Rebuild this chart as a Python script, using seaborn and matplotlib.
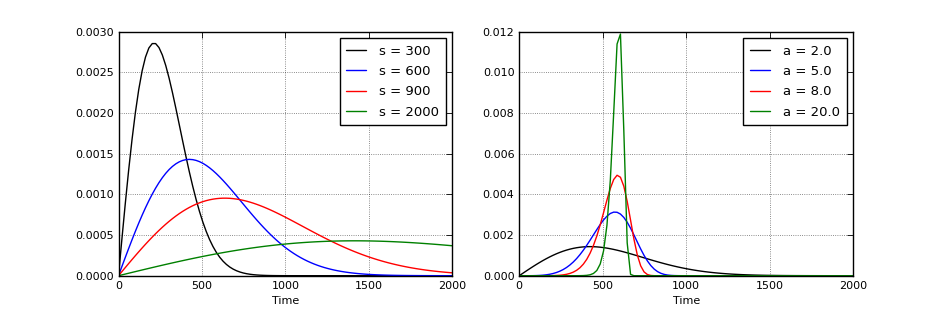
import numpy as np
import seaborn as sns
import matplotlib.pyplot as plt
from matplotlib.ticker import FormatStrFormatter, MultipleLocator

# Weibull parameters read from the legends
time = np.linspace(0, 2000, 100)
scales = [300, 600, 900, 2000]   # left panel, shape fixed
left_shape = 2.0
shapes = [2.0, 5.0, 8.0, 20.0]   # right panel, scale fixed
right_scale = 600
colors = ["black", "blue", "red", "green"]


def weibull_pdf(x, a, s):
    return (a / s) * (x / s) ** (a - 1) * np.exp(-(x / s) ** a)


sns.set_style("white", {
    "axes.edgecolor": "black",
    "axes.linewidth": 1.0,
    "axes.labelcolor": "black",
    "text.color": "black",
    "xtick.color": "black",
    "ytick.color": "black",
    "grid.color": "black",
    "grid.linestyle": ":",
    "xtick.direction": "in",
    "ytick.direction": "in",
})

fig, axes = plt.subplots(1, 2, figsize=(9.48, 3.16), dpi=100)
fig.subplots_adjust(left=0.125, right=0.9, top=0.9, bottom=0.1275, wspace=0.2)

ax = axes[0]
for s, c in zip(scales, colors):
    sns.lineplot(x=time, y=weibull_pdf(time, left_shape, s), color=c,
                 linewidth=1.0, label=f"s = {s}", ax=ax)
ax.set_ylim(0, 0.003)
ax.yaxis.set_major_locator(MultipleLocator(0.0005))
ax.yaxis.set_major_formatter(FormatStrFormatter("%.4f"))

ax = axes[1]
for a, c in zip(shapes, colors):
    sns.lineplot(x=time, y=weibull_pdf(time, a, right_scale), color=c,
                 linewidth=1.0, label=f"a = {a}", ax=ax)
ax.set_ylim(0, 0.012)
ax.yaxis.set_major_locator(MultipleLocator(0.002))
ax.yaxis.set_major_formatter(FormatStrFormatter("%.3f"))

for ax in axes:
    ax.set_xlim(0, 2000)
    ax.xaxis.set_major_locator(MultipleLocator(500))
    ax.set_xlabel("Time", fontsize=8, color="black")
    ax.grid(True, color="black", linestyle=":", linewidth=0.6, alpha=0.6)
    ax.tick_params(axis="both", which="major", labelsize=8, length=4,
                   width=0.6, top=True, right=True, direction="in",
                   colors="black")
    for sp in ax.spines.values():
        sp.set_color("black")
        sp.set_linewidth(1.0)
    leg = ax.legend(loc="upper right", fontsize=9.5, frameon=True, fancybox=False,
                    handlelength=1.5, labelspacing=0.55, borderpad=0.5,
                    handletextpad=1.0)
    leg.get_frame().set_edgecolor("black")
    leg.get_frame().set_linewidth(1.0)
    leg.get_frame().set_alpha(1.0)
    for t in leg.get_texts():
        t.set_color("black")

plt.savefig("out.png", dpi=100)
plt.close()
